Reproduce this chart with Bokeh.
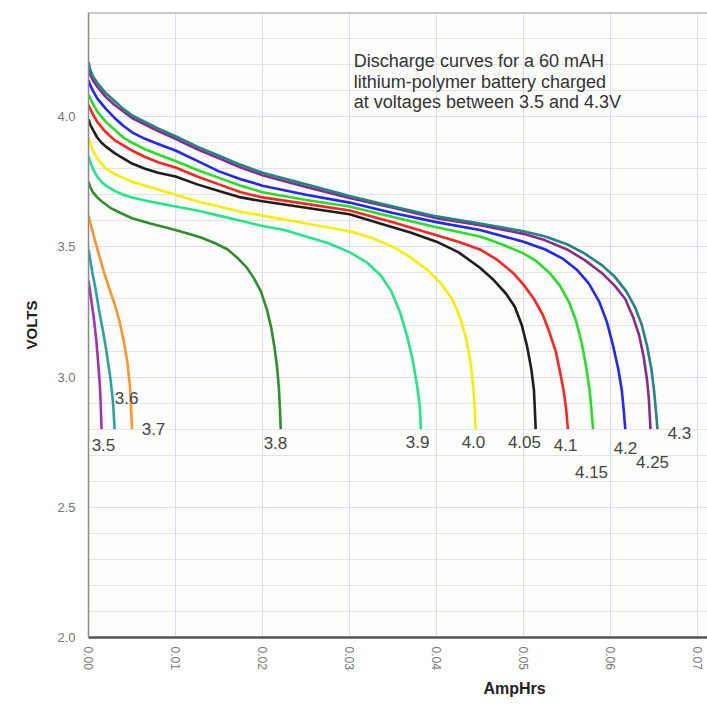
from bokeh.plotting import figure
from bokeh.models import (Range1d, SingleIntervalTicker, PrintfTickFormatter,
                          ColumnDataSource, Title, Span)
from bokeh.core.properties import value
from bokeh.embed import file_html
from bokeh.resources import INLINE

# ---------------- data (AmpHrs, Volts) ----------------
ah_35 = [0.0, 0.0003, 0.0006, 0.0009, 0.0011, 0.0013, 0.0014, 0.0015]
v_35 = [3.37, 3.30, 3.23, 3.14, 3.06, 2.97, 2.90, 2.80]

ah_36 = [0.0, 0.0004, 0.0008, 0.0012, 0.0017, 0.0021, 0.0025, 0.0028, 0.0029, 0.0030]
v_36 = [3.49, 3.41, 3.34, 3.26, 3.17, 3.09, 3.00, 2.91, 2.86, 2.80]

ah_37 = [0.0, 0.0003, 0.0007, 0.0012, 0.0018, 0.0024, 0.0030, 0.0036,
         0.0041, 0.0045, 0.0048, 0.0049, 0.0050]
v_37 = [3.62, 3.58, 3.53, 3.47, 3.40, 3.34, 3.28, 3.21,
        3.13, 3.05, 2.95, 2.88, 2.80]

ah_38 = [0.0, 0.0002, 0.0005, 0.001, 0.0015, 0.0025, 0.0037, 0.005, 0.0071,
         0.010, 0.0115, 0.013, 0.0145, 0.016, 0.0172, 0.0182, 0.019, 0.0198,
         0.0205, 0.021, 0.0214, 0.0217, 0.0219, 0.0220, 0.0221]
v_38 = [3.75, 3.73, 3.71, 3.69, 3.675, 3.65, 3.63, 3.61, 3.59,
        3.565, 3.55, 3.535, 3.515, 3.49, 3.455, 3.42, 3.38, 3.33,
        3.26, 3.19, 3.11, 3.03, 2.95, 2.88, 2.80]

ah_39 = [0.0, 0.0002, 0.0005, 0.001, 0.0015, 0.002, 0.003, 0.004, 0.005,
         0.0065, 0.008, 0.010, 0.0125, 0.015, 0.0175, 0.020, 0.0225, 0.025,
         0.0275, 0.030, 0.032, 0.0336, 0.0348, 0.0358, 0.0366, 0.0373,
         0.0378, 0.0381, 0.0382]
v_39 = [3.85, 3.825, 3.80, 3.77, 3.75, 3.735, 3.715, 3.70, 3.69,
        3.678, 3.668, 3.655, 3.64, 3.62, 3.60, 3.58, 3.565, 3.54,
        3.515, 3.48, 3.44, 3.39, 3.33, 3.25, 3.16, 3.06,
        2.96, 2.88, 2.80]

ah_40 = [0.0, 0.0002, 0.0005, 0.001, 0.0015, 0.002, 0.003, 0.004, 0.005,
         0.0065, 0.008, 0.010, 0.0125, 0.015, 0.0175, 0.020, 0.025, 0.030,
         0.0325, 0.035, 0.037, 0.039, 0.0405, 0.0418, 0.0427, 0.0434,
         0.0439, 0.0442, 0.0444, 0.0445]
v_40 = [3.92, 3.90, 3.87, 3.84, 3.82, 3.80, 3.78, 3.765, 3.75,
        3.735, 3.72, 3.70, 3.675, 3.655, 3.635, 3.62, 3.59, 3.56,
        3.535, 3.50, 3.46, 3.41, 3.36, 3.30, 3.23, 3.15,
        3.06, 2.97, 2.88, 2.80]

ah_405 = [0.0, 0.0002, 0.0005, 0.001, 0.0015, 0.002, 0.003, 0.004, 0.005,
          0.0065, 0.008, 0.010, 0.0125, 0.015, 0.0175, 0.020, 0.025, 0.030,
          0.034, 0.037, 0.040, 0.0425, 0.045, 0.0465, 0.048, 0.049, 0.0498,
          0.0504, 0.0509, 0.0512, 0.0513, 0.0514]
v_405 = [3.99, 3.97, 3.95, 3.92, 3.90, 3.885, 3.86, 3.84, 3.82,
         3.80, 3.785, 3.77, 3.74, 3.715, 3.69, 3.675, 3.65, 3.625,
         3.585, 3.555, 3.52, 3.48, 3.42, 3.375, 3.32, 3.27, 3.20,
         3.12, 3.03, 2.95, 2.88, 2.80]

ah_41 = [0.0, 0.0002, 0.0005, 0.001, 0.0015, 0.002, 0.003, 0.004, 0.005,
         0.0065, 0.008, 0.010, 0.0125, 0.015, 0.0175, 0.020, 0.025, 0.030,
         0.035, 0.040, 0.0425, 0.045, 0.047, 0.0488, 0.050, 0.0512, 0.0522,
         0.053, 0.0537, 0.0542, 0.0546, 0.0549, 0.0551]
v_41 = [4.046, 4.03, 4.01, 3.98, 3.96, 3.94, 3.91, 3.89, 3.87,
        3.845, 3.825, 3.805, 3.77, 3.74, 3.71, 3.69, 3.665, 3.64,
        3.595, 3.545, 3.52, 3.49, 3.45, 3.40, 3.355, 3.30, 3.24,
        3.17, 3.10, 3.02, 2.95, 2.88, 2.80]

ah_415 = [0.0, 0.0002, 0.0005, 0.001, 0.0015, 0.002, 0.003, 0.004, 0.005,
          0.0065, 0.008, 0.010, 0.0125, 0.015, 0.0175, 0.020, 0.025, 0.030,
          0.035, 0.040, 0.045, 0.0475, 0.050, 0.0515, 0.053, 0.0542, 0.0552,
          0.056, 0.0567, 0.0572, 0.0576, 0.0578, 0.0580]
v_415 = [4.085, 4.07, 4.05, 4.02, 4.00, 3.98, 3.95, 3.92, 3.90,
         3.875, 3.855, 3.83, 3.795, 3.765, 3.735, 3.71, 3.68, 3.655,
         3.615, 3.575, 3.54, 3.51, 3.475, 3.445, 3.40, 3.35, 3.29,
         3.22, 3.13, 3.04, 2.95, 2.88, 2.80]

ah_42 = [0.0, 0.0002, 0.0005, 0.001, 0.0015, 0.002, 0.003, 0.004, 0.005,
         0.0065, 0.008, 0.010, 0.0125, 0.015, 0.0175, 0.020, 0.025, 0.030,
         0.035, 0.040, 0.045, 0.050, 0.0525, 0.0545, 0.0562, 0.0575, 0.0587,
         0.0596, 0.0603, 0.0609, 0.0613, 0.0615, 0.0617]
v_42 = [4.14, 4.12, 4.10, 4.07, 4.05, 4.03, 3.995, 3.965, 3.94,
        3.915, 3.895, 3.87, 3.83, 3.79, 3.76, 3.735, 3.70, 3.67,
        3.63, 3.595, 3.565, 3.52, 3.49, 3.455, 3.41, 3.36, 3.29,
        3.21, 3.12, 3.03, 2.95, 2.88, 2.80]

ah_425 = [0.0, 0.0002, 0.0005, 0.001, 0.0015, 0.002, 0.003, 0.004, 0.005,
          0.0065, 0.008, 0.010, 0.0125, 0.015, 0.0175, 0.020, 0.025, 0.030,
          0.035, 0.040, 0.045, 0.050, 0.0525, 0.055, 0.057, 0.059, 0.0605,
          0.0617, 0.0626, 0.0633, 0.0638, 0.0642, 0.0644, 0.0645, 0.0646]
v_425 = [4.18, 4.16, 4.14, 4.115, 4.095, 4.075, 4.045, 4.02, 3.995,
         3.97, 3.945, 3.915, 3.875, 3.84, 3.805, 3.775, 3.73, 3.688,
         3.65, 3.61, 3.583, 3.55, 3.525, 3.49, 3.45, 3.40, 3.35,
         3.30, 3.23, 3.16, 3.08, 2.99, 2.92, 2.86, 2.80]

ah_43 = [0.0, 0.0002, 0.0005, 0.001, 0.0015, 0.002, 0.003, 0.004, 0.005,
         0.0065, 0.008, 0.010, 0.0125, 0.015, 0.0175, 0.020, 0.025, 0.030,
         0.035, 0.040, 0.045, 0.050, 0.0525, 0.055, 0.057, 0.059, 0.0605,
         0.0618, 0.0628, 0.0636, 0.0642, 0.0647, 0.0650, 0.0652, 0.0654]
v_43 = [4.21, 4.18, 4.155, 4.13, 4.11, 4.09, 4.06, 4.03, 4.005,
        3.98, 3.955, 3.925, 3.885, 3.85, 3.815, 3.785, 3.74, 3.695,
        3.655, 3.617, 3.59, 3.56, 3.54, 3.51, 3.475, 3.43, 3.385,
        3.33, 3.27, 3.20, 3.12, 3.03, 2.95, 2.88, 2.80]

curve_names = ["3.5", "3.6", "3.7", "3.8", "3.9", "4.0", "4.05", "4.1",
               "4.15", "4.2", "4.25", "4.3"]
curve_x = [ah_35, ah_36, ah_37, ah_38, ah_39, ah_40, ah_405, ah_41,
           ah_415, ah_42, ah_425, ah_43]
curve_y = [v_35, v_36, v_37, v_38, v_39, v_40, v_405, v_41,
           v_415, v_42, v_425, v_43]
curve_colors = ["#a033b3", "#26a3a3", "#ff9428", "#2f8f2f", "#22e68c",
                "#f7ef00", "#1e1e1e", "#ff2424", "#24e024", "#2424ff",
                "#8c2a8c", "#1f8585"]

# curve label positions (AmpHrs, Volts)
label_x = [0.00172, 0.00437, 0.00747, 0.02149, 0.03782, 0.04425, 0.05011,
           0.05483, 0.05782, 0.06172, 0.06483, 0.06793]
label_y = [2.738, 2.919, 2.800, 2.746, 2.750, 2.750, 2.750,
           2.738, 2.635, 2.727, 2.673, 2.785]

note_lines = ["Discharge curves for a 60 mAH",
              "lithium-polymer battery charged",
              "at voltages between 3.5 and 4.3V"]
note_x = 0.0305
note_top_y = 4.212
note_step = 0.077

FONT = "Liberation Sans"

# ---------------- figure ----------------
p = figure(width=707, height=705,
           x_range=Range1d(0.0, 0.07115), y_range=Range1d(2.0, 4.4),
           output_backend="svg", toolbar_location=None,
           min_border_left=88, min_border_right=0,
           min_border_top=12, min_border_bottom=68)

p.background_fill_color = "#fdfdfb"
p.border_fill_color = "#ffffff"
p.outline_line_color = None

p.xaxis.ticker = SingleIntervalTicker(interval=0.01, num_minor_ticks=0)
p.yaxis.ticker = SingleIntervalTicker(interval=0.5, num_minor_ticks=5)
p.xaxis.formatter = PrintfTickFormatter(format="%.2f")
p.yaxis.formatter = PrintfTickFormatter(format="%.1f")

p.xgrid.grid_line_color = "#d9d9fb"
p.xgrid.grid_line_width = 1
p.ygrid.grid_line_color = "#dadafa"
p.ygrid.minor_grid_line_color = "#e4e4e4"
p.ygrid.minor_grid_line_width = 1

for ax in (p.xaxis, p.yaxis):
    ax.major_tick_line_color = None
    ax.minor_tick_line_color = None
    ax.major_label_text_font = FONT
    ax.major_label_text_color = "#767676"

p.xaxis.axis_line_color = "#555555"
p.xaxis.axis_line_width = 2.5
p.xaxis.major_label_orientation = "vertical"
p.xaxis.major_label_text_font_size = "12px"
p.xaxis.major_label_standoff = 3

p.yaxis.axis_line_color = "#8a8a8a"
p.yaxis.axis_line_width = 1.5
p.yaxis.major_label_text_font_size = "13px"
p.yaxis.major_label_standoff = 7
p.yaxis.axis_label = "VOLTS"
p.yaxis.axis_label_text_font = FONT
p.yaxis.axis_label_text_font_size = "15px"
p.yaxis.axis_label_text_font_style = "bold"
p.yaxis.axis_label_text_color = "#222222"
p.yaxis.axis_label_standoff = 14

p.add_layout(Span(location=4.4, dimension="width", line_color="#9a9a9a",
                  line_width=2))

for xs, ys, c in zip(curve_x, curve_y, curve_colors):
    p.line(xs, ys, line_color=c, line_width=2.6, line_join="round")

lab_src = ColumnDataSource(dict(x=label_x, y=label_y, t=curve_names))
p.text(x="x", y="y", text="t", source=lab_src,
       text_font=value(FONT), text_font_size="17px", text_color="#444444",
       text_align="center", text_baseline="middle")

note_src = ColumnDataSource(dict(
    x=[note_x] * len(note_lines),
    y=[note_top_y - i * note_step for i in range(len(note_lines))],
    t=note_lines))
p.text(x="x", y="y", text="t", source=note_src,
       text_font=value(FONT), text_font_size="18px", text_color="#333333",
       text_align="left", text_baseline="alphabetic")

p.add_layout(Title(text="AmpHrs", align="left", offset=395,
                   text_font=FONT, text_font_size="16px",
                   text_font_style="bold", text_color="#222222"), "below")

open("out.html", "w").write(file_html(p, INLINE))
